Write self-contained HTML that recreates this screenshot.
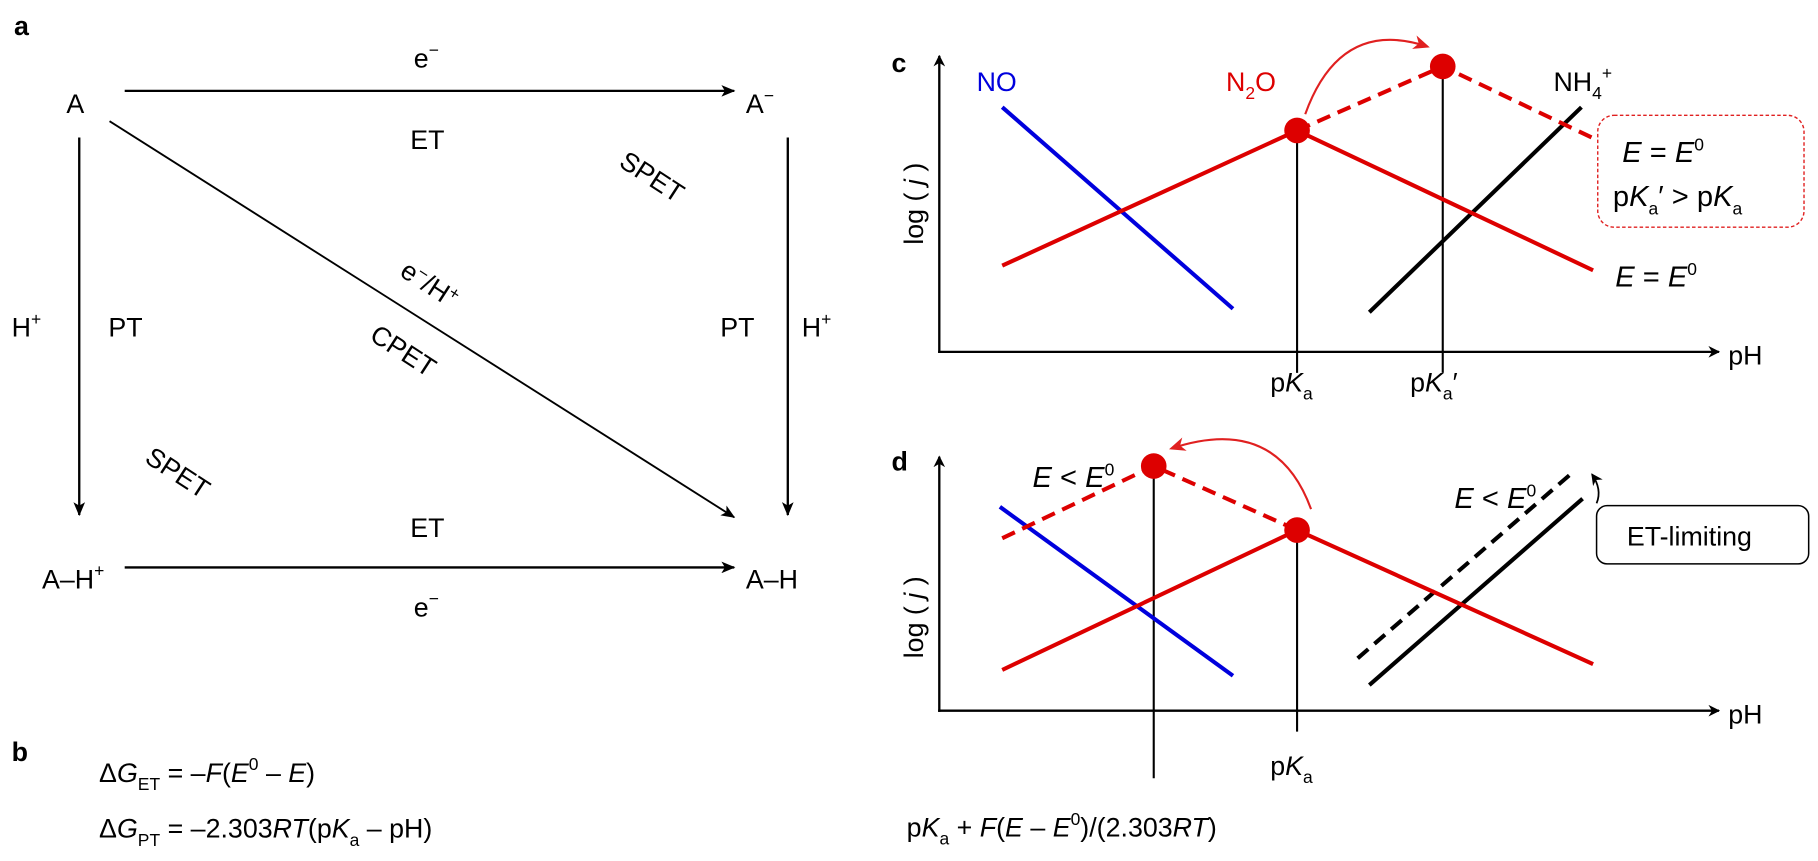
<!DOCTYPE html>
<html><head><meta charset="utf-8"><style>
html,body{margin:0;padding:0;background:#fff;}
svg{display:block;}
text{font-family:"Liberation Sans",sans-serif;font-size:23px;fill:#000;}
.b{font-weight:bold;font-size:23px;}
.i{font-style:italic;}
.sub{font-size:15px;}
.big{font-size:25px;}
</style></head><body>
<svg width="1818" height="861" viewBox="0 0 1560 739" preserveAspectRatio="none" xmlns="http://www.w3.org/2000/svg">
<defs>
<marker id="ah" markerWidth="12" markerHeight="10" refX="11" refY="5" orient="auto" markerUnits="userSpaceOnUse"><path d="M0,0 L12,5 L0,10 L3,5z" fill="#000"/></marker>
<marker id="rh" markerWidth="14" markerHeight="12" refX="12" refY="6" orient="auto" markerUnits="userSpaceOnUse"><path d="M0,0 L14,6 L0,12 L4,6z" fill="#e02020"/></marker>
<marker id="bh" markerWidth="10" markerHeight="10" refX="9" refY="5" orient="auto" markerUnits="userSpaceOnUse"><path d="M0,0 L10,5 L0,10 L3,5z" fill="#000"/></marker>
</defs>
<!-- panel a -->
<text x="12" y="30" class="b">a</text>
<text x="57" y="97">A</text>
<text x="640" y="97">A<tspan dy="-10" class="sub">−</tspan></text>
<text x="36" y="505">A–H<tspan dy="-10" class="sub">+</tspan></text>
<text x="640" y="505">A–H</text>
<line x1="107" y1="78" x2="630" y2="78" stroke="#000" stroke-width="2" marker-end="url(#ah)"/>
<line x1="107" y1="487" x2="630" y2="487" stroke="#000" stroke-width="2" marker-end="url(#ah)"/>
<line x1="68" y1="118" x2="68" y2="442" stroke="#000" stroke-width="2" marker-end="url(#ah)"/>
<line x1="676" y1="118" x2="676" y2="442" stroke="#000" stroke-width="2" marker-end="url(#ah)"/>
<line x1="94" y1="104" x2="630" y2="444" stroke="#000" stroke-width="1.6" marker-end="url(#ah)"/>
<text x="355" y="58">e<tspan dy="-10" class="sub">−</tspan></text>
<text x="352" y="128">ET</text>
<text x="352" y="461">ET</text>
<text x="355" y="529">e<tspan dy="-10" class="sub">−</tspan></text>
<text x="10" y="289">H<tspan dy="-10" class="sub">+</tspan></text>
<text x="93" y="289">PT</text>
<text x="618" y="289">PT</text>
<text x="688" y="289">H<tspan dy="-10" class="sub">+</tspan></text>
<text transform="translate(530,142) rotate(33)">SPET</text>
<text transform="translate(123,396) rotate(33)">SPET</text>
<text transform="translate(342,236) rotate(33)">e<tspan dy="-8" class="sub">−</tspan><tspan dy="8">/H</tspan><tspan dy="-8" class="sub">+</tspan></text>
<text transform="translate(316,291) rotate(33)">CPET</text>
<!-- panel b -->
<text x="10" y="653" class="b">b</text>
<text x="85" y="671">Δ<tspan class="i">G</tspan><tspan dy="7" class="sub">ET</tspan><tspan dy="-7"> = –</tspan><tspan class="i">F</tspan>(<tspan class="i">E</tspan><tspan dy="-10" class="sub">0</tspan><tspan dy="10"> – </tspan><tspan class="i">E</tspan>)</text>
<text x="85" y="719">Δ<tspan class="i">G</tspan><tspan dy="7" class="sub">PT</tspan><tspan dy="-7"> = –2.303</tspan><tspan class="i">RT</tspan>(p<tspan class="i">K</tspan><tspan dy="7" class="sub">a</tspan><tspan dy="-7"> – pH)</tspan></text>
<!-- panel c -->
<text x="765" y="62" class="b">c</text>
<line x1="806" y1="303" x2="806" y2="48" stroke="#000" stroke-width="2" marker-end="url(#bh)"/>
<line x1="805" y1="302" x2="1475" y2="302" stroke="#000" stroke-width="2" marker-end="url(#bh)"/>
<text transform="translate(792,210) rotate(-90)">log ( <tspan class="i">j</tspan> )</text>
<text x="1483" y="313">pH</text>
<line x1="1113" y1="112" x2="1113" y2="320" stroke="#000" stroke-width="1.8"/>
<line x1="1238" y1="57" x2="1238" y2="320" stroke="#000" stroke-width="1.8"/>
<text x="1090" y="336">p<tspan class="i">K</tspan><tspan dy="7" class="sub">a</tspan></text>
<text x="1210" y="336">p<tspan class="i">K</tspan><tspan dy="7" class="sub">a</tspan><tspan dy="-7">′</tspan></text>
<line x1="860" y1="92" x2="1058" y2="265" stroke="#0000dd" stroke-width="3.5"/>
<line x1="1175" y1="268" x2="1357" y2="92" stroke="#000" stroke-width="3.5"/>
<polyline points="860,228 1113,112 1367,232" fill="none" stroke="#dd0000" stroke-width="3.5"/>
<polyline points="1113,112 1238,57 1370,120" fill="none" stroke="#dd0000" stroke-width="3.5" stroke-dasharray="12,7"/>
<circle cx="1113" cy="112" r="11" fill="#dd0000"/>
<circle cx="1238" cy="57" r="11" fill="#dd0000"/>
<path d="M1120,98 Q1150,15 1225,40" fill="none" stroke="#e02020" stroke-width="1.8" marker-end="url(#rh)"/>
<text x="838" y="78" style="fill:#0000dd">NO</text>
<text x="1052" y="78" style="fill:#dd0000">N<tspan dy="7" class="sub" style="fill:#dd0000">2</tspan><tspan dy="-7" style="fill:#dd0000">O</tspan></text>
<text x="1333" y="78">NH<tspan dy="7" class="sub">4</tspan><tspan dy="-17" class="sub">+</tspan></text>
<rect x="1371" y="99" width="177" height="96" rx="14" fill="none" stroke="#e02020" stroke-width="1.2" stroke-dasharray="3,2"/>
<text x="1392" y="139" class="big"><tspan class="i">E</tspan> = <tspan class="i">E</tspan><tspan dy="-10" class="sub">0</tspan></text>
<text x="1384" y="177" class="big">p<tspan class="i">K</tspan><tspan dy="7" class="sub">a</tspan><tspan dy="-7">′ &gt; p</tspan><tspan class="i">K</tspan><tspan dy="7" class="sub">a</tspan></text>
<text x="1386" y="246" class="big"><tspan class="i">E</tspan> = <tspan class="i">E</tspan><tspan dy="-10" class="sub">0</tspan></text>
<!-- panel d -->
<text x="765" y="404" class="b">d</text>
<line x1="806" y1="611" x2="806" y2="392" stroke="#000" stroke-width="2" marker-end="url(#bh)"/>
<line x1="805" y1="610" x2="1475" y2="610" stroke="#000" stroke-width="2" marker-end="url(#bh)"/>
<text transform="translate(792,565) rotate(-90)">log ( <tspan class="i">j</tspan> )</text>
<text x="1483" y="621">pH</text>
<line x1="990" y1="400" x2="990" y2="668" stroke="#000" stroke-width="1.8"/>
<line x1="1113" y1="455" x2="1113" y2="628" stroke="#000" stroke-width="1.8"/>
<text x="1090" y="665">p<tspan class="i">K</tspan><tspan dy="7" class="sub">a</tspan></text>
<text x="778" y="718">p<tspan class="i">K</tspan><tspan dy="7" class="sub">a</tspan><tspan dy="-7"> + </tspan><tspan class="i">F</tspan>(<tspan class="i">E</tspan> – <tspan class="i">E</tspan><tspan dy="-10" class="sub">0</tspan><tspan dy="10">)/(2.303</tspan><tspan class="i">RT</tspan>)</text>
<line x1="858" y1="435" x2="1058" y2="580" stroke="#0000dd" stroke-width="3.5"/>
<line x1="1175" y1="588" x2="1358" y2="428" stroke="#000" stroke-width="3.5"/>
<line x1="1165" y1="565" x2="1350" y2="405" stroke="#000" stroke-width="3.5" stroke-dasharray="12,7"/>
<polyline points="860,575 1113,455 1367,570" fill="none" stroke="#dd0000" stroke-width="3.5"/>
<polyline points="860,462 990,400 1113,455" fill="none" stroke="#dd0000" stroke-width="3.5" stroke-dasharray="12,7"/>
<circle cx="990" cy="400" r="11" fill="#dd0000"/>
<circle cx="1113" cy="455" r="11" fill="#dd0000"/>
<path d="M1125,437 Q1095,355 1005,385" fill="none" stroke="#e02020" stroke-width="1.8" marker-end="url(#rh)"/>
<text x="886" y="418" class="big"><tspan class="i">E</tspan> &lt; <tspan class="i">E</tspan><tspan dy="-10" class="sub">0</tspan></text>
<text x="1248" y="436" class="big"><tspan class="i">E</tspan> &lt; <tspan class="i">E</tspan><tspan dy="-10" class="sub">0</tspan></text>
<path d="M1370,432 Q1375,420 1366,407" fill="none" stroke="#000" stroke-width="1.5" marker-end="url(#bh)"/>
<rect x="1370" y="434" width="182" height="50" rx="9" fill="none" stroke="#000" stroke-width="1.3"/>
<text x="1396" y="468">ET-limiting</text>
</svg>
</body></html>
